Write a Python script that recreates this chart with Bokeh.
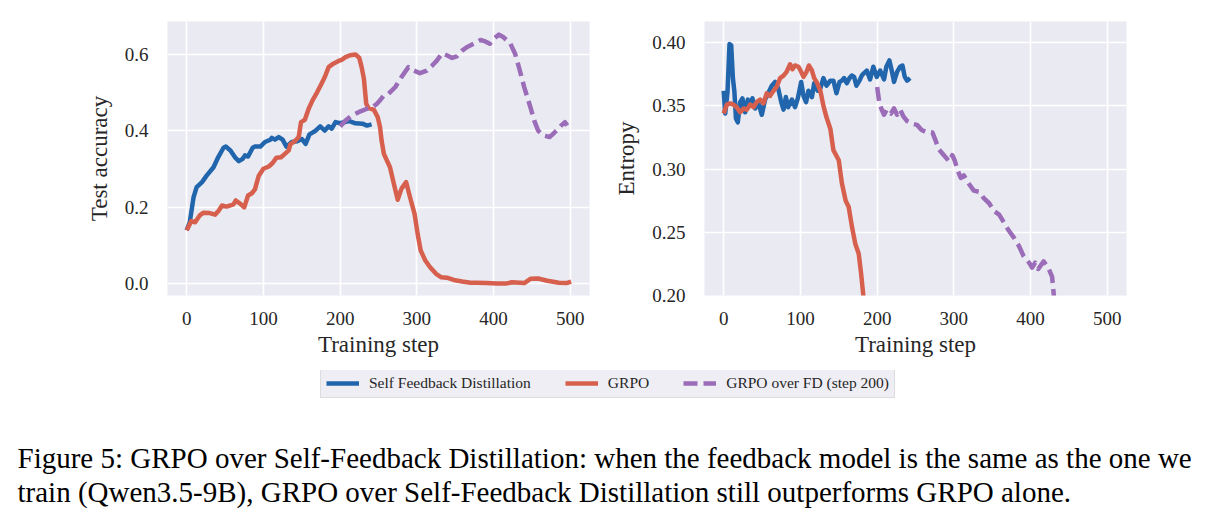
from bokeh.plotting import figure
from bokeh.layouts import column, row
from bokeh.models import FixedTicker, PrintfTickFormatter, Legend, LegendItem, Label, Range1d
from bokeh.embed import file_html
from bokeh.resources import INLINE

# ---------------- data ----------------
# Left panel: test accuracy
acc_sfd_step = [0, 4, 9, 13, 20, 26, 35, 41, 48, 51, 57, 63, 68, 73, 76, 80, 86, 89, 96, 102,
                109, 111, 115, 120, 125, 130, 137, 144, 150, 155, 160, 167, 174, 180, 185, 189, 194, 200, 211, 220,
                229, 235, 241]
acc_sfd = [0.14, 0.161, 0.227, 0.253, 0.266, 0.283, 0.305, 0.331, 0.356, 0.359, 0.349, 0.331, 0.321, 0.327, 0.336, 0.333, 0.356, 0.359, 0.359, 0.371,
           0.377, 0.382, 0.377, 0.384, 0.377, 0.359, 0.371, 0.373, 0.379, 0.366, 0.391, 0.399, 0.412, 0.401, 0.412, 0.406, 0.423, 0.42, 0.426, 0.42,
           0.419, 0.414, 0.417]

acc_grpo_step = [0, 6, 11, 17, 22, 30, 37, 42, 46, 52, 61, 64, 70, 75, 80, 85, 89, 91, 94, 100,
                 107, 112, 117, 123, 128, 133, 135, 141, 146, 149, 154, 159, 164, 170, 176, 180, 185, 191, 198, 202,
                 207, 213, 220, 225, 228, 231, 234, 237, 244, 249, 252, 254, 257, 262, 265, 269, 275, 280, 286, 291,
                 297, 301, 305, 311, 317, 325, 332, 339, 348, 359, 370, 378, 391, 404, 417, 424, 440, 448, 458, 470,
                 485, 495, 501]
acc_grpo = [0.14, 0.164, 0.161, 0.179, 0.186, 0.185, 0.181, 0.192, 0.205, 0.202, 0.208, 0.218, 0.209, 0.2, 0.231, 0.237, 0.247, 0.262, 0.283, 0.301,
            0.307, 0.316, 0.33, 0.331, 0.34, 0.349, 0.365, 0.373, 0.384, 0.423, 0.429, 0.458, 0.48, 0.501, 0.525, 0.541, 0.567, 0.576, 0.583, 0.586,
            0.593, 0.598, 0.6, 0.591, 0.567, 0.536, 0.471, 0.46, 0.455, 0.436, 0.41, 0.375, 0.34, 0.318, 0.305, 0.27, 0.22, 0.249, 0.266, 0.227,
            0.183, 0.131, 0.087, 0.061, 0.044, 0.026, 0.017, 0.016, 0.01, 0.006, 0.003, 0.003, 0.002, 0.001, 0.001, 0.004, 0.002, 0.013, 0.014, 0.008,
            0.003, 0.002, 0.006]

acc_fd_step = [200, 207, 215, 224, 235, 241, 248, 252, 257, 263, 272, 280, 289, 296, 304, 313, 320, 326, 333, 339,
               346, 352, 359, 365, 374, 383, 388, 395, 400, 407, 413, 422, 428, 433, 440, 448, 453, 458, 465, 473,
               480, 488, 493, 496]
acc_fd = [0.412, 0.427, 0.44, 0.449, 0.458, 0.46, 0.471, 0.48, 0.493, 0.497, 0.515, 0.541, 0.567, 0.558, 0.551, 0.558, 0.571, 0.584, 0.603, 0.598,
          0.591, 0.595, 0.61, 0.619, 0.628, 0.638, 0.635, 0.628, 0.641, 0.652, 0.645, 0.628, 0.602, 0.567, 0.514, 0.462, 0.427, 0.401, 0.388, 0.384,
          0.397, 0.414, 0.423, 0.414]

# Right panel: entropy
ent_sfd_step = [0, 2, 5, 7.6, 9.8, 12, 14, 16, 18.4, 21.5, 24.5, 28, 31.5, 34.5, 37.5, 41, 45, 49.7, 54, 58,
                62.7, 67, 71, 75, 78, 81, 84, 89, 93, 96.6, 101, 104, 107.4, 110.5, 115, 118, 122.6, 126, 130, 134,
                139, 143, 147, 151, 154, 157, 160.5, 164, 167, 170, 173, 177, 180, 183, 186.5, 190.8, 195, 199.4, 204, 209,
                212, 216, 219, 222, 226, 230, 233, 236, 239, 243]
ent_sfd = [0.362, 0.344, 0.361, 0.399, 0.398, 0.372, 0.361, 0.34, 0.337, 0.353, 0.356, 0.345, 0.355, 0.352, 0.356, 0.348, 0.353, 0.343, 0.355, 0.36,
           0.366, 0.369, 0.364, 0.353, 0.347, 0.357, 0.349, 0.355, 0.349, 0.356, 0.369, 0.358, 0.353, 0.362, 0.357, 0.368, 0.362, 0.364, 0.372, 0.366,
           0.37, 0.37, 0.36, 0.369, 0.37, 0.372, 0.368, 0.372, 0.374, 0.373, 0.366, 0.37, 0.374, 0.376, 0.378, 0.371, 0.381, 0.373, 0.378, 0.371,
           0.381, 0.386, 0.378, 0.369, 0.377, 0.381, 0.382, 0.373, 0.37, 0.372]

ent_grpo_step = [0, 4, 8.5, 12.8, 17, 21.5, 26, 30, 34.6, 39, 43, 47.5, 52, 56, 60.5, 65, 69, 73.5, 78, 82,
                 86.6, 89.6, 93, 97.5, 101, 104, 108, 111, 115, 118, 121, 126, 130, 134, 139, 143, 150, 154, 159, 163,
                 167, 171.5, 176, 179, 182, 184]
ent_grpo = [0.344, 0.351, 0.352, 0.351, 0.349, 0.345, 0.348, 0.347, 0.351, 0.349, 0.353, 0.355, 0.352, 0.36, 0.358, 0.362, 0.365, 0.372, 0.374, 0.377,
            0.383, 0.379, 0.382, 0.381, 0.377, 0.373, 0.377, 0.382, 0.378, 0.372, 0.369, 0.362, 0.35, 0.341, 0.332, 0.315, 0.307, 0.289, 0.275, 0.27,
            0.255, 0.241, 0.233, 0.218, 0.2, 0.19]

ent_fd_step = [200, 203, 206, 209, 212.5, 218, 222, 226, 230, 234, 239, 245, 252, 258, 265, 272, 276, 280, 287, 294,
               298, 301, 305, 309, 313, 320, 326, 333, 339, 346, 352, 359, 365, 372, 378, 385, 391, 398, 402, 406,
               410, 417, 423, 428, 430, 431]
ent_fd = [0.365, 0.352, 0.347, 0.343, 0.347, 0.344, 0.348, 0.343, 0.347, 0.342, 0.338, 0.336, 0.335, 0.331, 0.329, 0.329, 0.323, 0.316, 0.311, 0.306,
          0.311, 0.307, 0.299, 0.293, 0.295, 0.288, 0.283, 0.282, 0.277, 0.273, 0.267, 0.264, 0.258, 0.251, 0.246, 0.239, 0.231, 0.226, 0.222, 0.226,
          0.221, 0.227, 0.222, 0.215, 0.202, 0.195]

x_ticks = [0, 100, 200, 300, 400, 500]
acc_ticks = [0.0, 0.2, 0.4, 0.6]
ent_ticks = [0.20, 0.25, 0.30, 0.35, 0.40]

series_names = ["Self Feedback Distillation", "GRPO", "GRPO over FD (step 200)"]
caption_lines = [
    "Figure 5: GRPO over Self-Feedback Distillation: when the feedback model is the same as the one we",
    "train (Qwen3.5-9B), GRPO over Self-Feedback Distillation still outperforms GRPO alone.",
]

# ---------------- style ----------------
BLUE = "#2166ac"
RED = "#d6604d"
PURPLE = "#9b6cb8"
BG = "#eaeaf2"
TXT = "#262626"
FONT = "Liberation Serif"
LW = 4.5
DASH = "14 6"


def style(p, yticks, fmt, ylabel):
    p.background_fill_color = BG
    p.border_fill_color = "white"
    p.outline_line_color = None
    p.xgrid.ticker = FixedTicker(ticks=x_ticks)
    p.ygrid.ticker = FixedTicker(ticks=yticks)
    p.grid.grid_line_color = "white"
    p.grid.grid_line_width = 1.6
    p.xaxis.ticker = FixedTicker(ticks=x_ticks)
    p.yaxis.ticker = FixedTicker(ticks=yticks)
    p.yaxis.formatter = PrintfTickFormatter(format=fmt)
    for ax in (p.xaxis[0], p.yaxis[0]):
        ax.axis_line_color = None
        ax.major_tick_line_color = None
        ax.minor_tick_line_color = None
        ax.major_tick_in = 0
        ax.major_tick_out = 0
        ax.major_label_text_font = FONT
        ax.major_label_text_font_size = "19px"
        ax.major_label_text_color = TXT
        ax.axis_label_text_font = FONT
        ax.axis_label_text_font_size = "23px"
        ax.axis_label_text_font_style = "normal"
        ax.axis_label_text_color = TXT
    p.xaxis.axis_label = "Training step"
    p.yaxis.axis_label = ylabel
    p.xaxis.major_label_standoff = 16
    p.xaxis.axis_label_standoff = 4
    p.yaxis.major_label_standoff = 19
    p.yaxis.axis_label_standoff = 10


# ---------------- left panel ----------------
pl = figure(width=600, height=370, output_backend="svg", toolbar_location=None,
            x_range=Range1d(-25, 525), y_range=Range1d(-0.0306, 0.6863),
            min_border_left=167, min_border_right=11, min_border_top=21, min_border_bottom=75)
style(pl, acc_ticks, "%.1f", "Test accuracy")
pl.line(acc_sfd_step, acc_sfd, line_color=BLUE, line_width=LW, line_join="round")
pl.line(acc_grpo_step, acc_grpo, line_color=RED, line_width=LW, line_join="round")
pl.line(acc_fd_step, acc_fd, line_color=PURPLE, line_width=LW, line_join="round", line_dash=DASH)

# ---------------- right panel ----------------
pr = figure(width=619, height=370, output_backend="svg", toolbar_location=None,
            x_range=Range1d(-25, 525), y_range=Range1d(0.20, 0.4168),
            min_border_left=104, min_border_right=93, min_border_top=21, min_border_bottom=75)
style(pr, ent_ticks, "%.2f", "Entropy")
pr.line(ent_sfd_step, ent_sfd, line_color=BLUE, line_width=LW, line_join="round")
pr.line(ent_grpo_step, ent_grpo, line_color=RED, line_width=LW, line_join="round")
pr.line(ent_fd_step, ent_fd, line_color=PURPLE, line_width=LW, line_join="round", line_dash=DASH)

# ---------------- legend + caption ----------------
pb = figure(width=1219, height=154, output_backend="svg", toolbar_location=None,
            x_range=Range1d(0, 1219), y_range=Range1d(0, 154), min_border=0)
pb.axis.visible = False
pb.grid.visible = False
pb.outline_line_color = None
pb.background_fill_color = "white"
pb.border_fill_color = "white"
# legend-only copies of the series, mapped onto a range that keeps them out of view
pb.extra_y_ranges = {"hidden": Range1d(10, 20)}
r1 = pb.line(acc_sfd_step, acc_sfd, line_color=BLUE, line_width=LW, y_range_name="hidden")
r2 = pb.line(acc_grpo_step, acc_grpo, line_color=RED, line_width=LW, y_range_name="hidden")
r3 = pb.line(acc_fd_step, acc_fd, line_color=PURPLE, line_width=LW, line_dash=DASH, y_range_name="hidden")
leg = Legend(items=[LegendItem(label=series_names[0], renderers=[r1]),
                    LegendItem(label=series_names[1], renderers=[r2]),
                    LegendItem(label=series_names[2], renderers=[r3])],
             orientation="horizontal", location=(320, 126),
             label_text_font=FONT, label_text_font_size="15.5px", label_text_color=TXT,
             glyph_width=33, glyph_height=16, label_height=16, label_standoff=10,
             spacing=34, padding=5, margin=0,
             background_fill_color="#eeeef4", background_fill_alpha=1.0,
             border_line_color="#cccccc", border_line_width=1)
pb.add_layout(leg, "center")

pb.add_layout(Label(x=17, y=67, x_units="screen", y_units="screen", text=caption_lines[0],
                    text_font=FONT, text_font_size="29px", text_color="black",
                    text_baseline="alphabetic"))
pb.add_layout(Label(x=17, y=33, x_units="screen", y_units="screen", text=caption_lines[1],
                    text_font=FONT, text_font_size="29px", text_color="black",
                    text_baseline="alphabetic"))

layout = column(row(pl, pr, spacing=0), pb, spacing=0)
open("out.html", "w").write(file_html(layout, INLINE))
